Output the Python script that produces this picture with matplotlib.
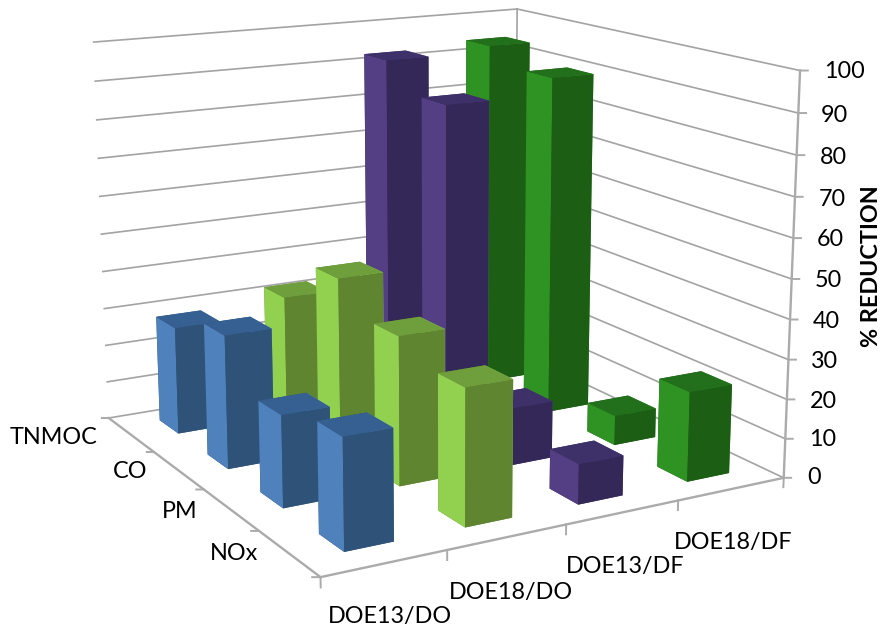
import numpy as np
import matplotlib
matplotlib.use("Agg")
import matplotlib.pyplot as plt

W, H = 881, 629

# Emission categories front to back, fuel/engine series left to right
pollutants = ["NOx", "PM", "CO", "TNMOC"]
series = ["DOE13/DO", "DOE18/DO", "DOE13/DF", "DOE18/DF"]
doe13_do = [26.9, 22.9, 34.2, 28.3]
doe18_do = [33.5, 37.6, 44.6, 32.3]
doe13_df = [10.0, 14.7, 85.6, 92.6]
doe18_df = [22.7, 7.7, 89.8, 94.0]
z_ticks = list(range(0, 101, 10))

# (left face, front face, top face) per series
face_colors = [
    ("#4F81BD", "#2F5378", "#376092"),
    ("#92D050", "#5F8530", "#6E9F3C"),
    ("#543F85", "#332857", "#3E3068"),
    ("#2E9323", "#1B5E14", "#22701B"),
]
values = [doe13_do, doe18_do, doe13_df, doe18_df]

plt.rcParams["font.family"] = ["Lato", "DejaVu Sans"]
fig = plt.figure(figsize=(W / 100, H / 100), dpi=100)

# Axes box placed so the 3D view lands on the canvas with the intended scale
scale, off_x, off_y = 4304.88, 431.8, 255.61
ax_w = 0.185 * scale
left = off_x - 0.095 * scale
bottom = H - (off_y + 0.095 * scale)
ax = fig.add_axes([left / W, bottom / H, ax_w / W, ax_w / H], projection="3d")
ax.set_xlim(0, 4)
ax.set_ylim(0, 4)
ax.set_zlim(0, 100)
ax.set_box_aspect((4, 4 * 0.9934, 4 * 0.7946))
ax.view_init(elev=14.06, azim=-119.42, roll=0.1055)
ax.set_proj_type("persp", focal_length=float(np.exp(-0.6901)))
ax.set_axis_off()
ax.patch.set_alpha(0)
ax.computed_zorder = False

GRID = "#A3A3A3"
AXIS = "#ABABAB"

# Gridlines on the two back walls
for z in z_ticks:
    ax.plot([0, 4], [4, 4], [z, z], color=GRID, lw=1.2, zorder=1)
    ax.plot([4, 4], [4, 0], [z, z], color=GRID, lw=1.2, zorder=1)
ax.plot([4, 4], [4, 4], [0, 100], color=GRID, lw=1.2, zorder=1)

# Floor edges and the vertical axis with their tick marks
ax.plot([0, 4], [0, 0], [0, 0], color=AXIS, lw=1.7, zorder=2)
ax.plot([0, 0], [0, 4], [0, 0], color=AXIS, lw=1.7, zorder=2)
ax.plot([4, 4], [0, 0], [0, 100], color=AXIS, lw=1.7, zorder=2)
for z in z_ticks:
    ax.plot([4, 4.05], [0, -0.028], [z, z], color=AXIS, lw=1.4, zorder=2)
for i in range(5):
    ax.plot([i, i], [0, 0], [0, -2.4], color=AXIS, lw=1.4, zorder=2)
    ax.plot([0, -0.05], [i, i + 0.028], [0, 0], color=AXIS, lw=1.4, zorder=2)

# Bars, painted from the back row forward and right to left within a row
bar_w = 0.4
inset_x = [0.35, 0.33, 0.30, 0.30]
inset_y = [0.33, 0.315, 0.30, 0.30]
order = 10
for j in reversed(range(len(pollutants))):
    for i in reversed(range(len(series))):
        light, dark, top = face_colors[i]
        # bar3d faces: bottom, top, front(-y), back(+y), left(-x), right(+x)
        colors = [dark, top, dark, dark, light, light]
        ax.bar3d(i + inset_x[i], j + inset_y[i], 0, bar_w, bar_w, values[i][j],
                 color=colors, shade=False, zorder=order,
                 edgecolor="none", linewidth=0)
        order += 1

# Tick labels
FS = 16.8
z_label_x = [807, 809, 810, 811, 813, 815, 817, 819, 820, 821, 824]
z_label_y = [478, 440, 401, 361, 322, 281, 240, 199, 157, 115, 72]
for z, lx, ly in zip(z_ticks, z_label_x, z_label_y):
    fig.text(lx / W, 1 - ly / H, str(z), ha="left", va="center", fontsize=FS)

for name, lx, ly in zip(pollutants, [210, 162, 113, 10], [554, 511, 472, 437]):
    fig.text(lx / W, 1 - ly / H, name, ha="left", va="center", fontsize=FS)
for name, lx, ly in zip(series, [328, 449, 566, 674], [617, 592, 566, 543]):
    fig.text(lx / W, 1 - ly / H, name, ha="left", va="center", fontsize=FS)

fig.text(871 / W, 1 - 266 / H, "% REDUCTION", rotation=90, ha="center",
         va="center", fontsize=16.8, fontweight="bold")

fig.savefig("out.png", dpi=100)
